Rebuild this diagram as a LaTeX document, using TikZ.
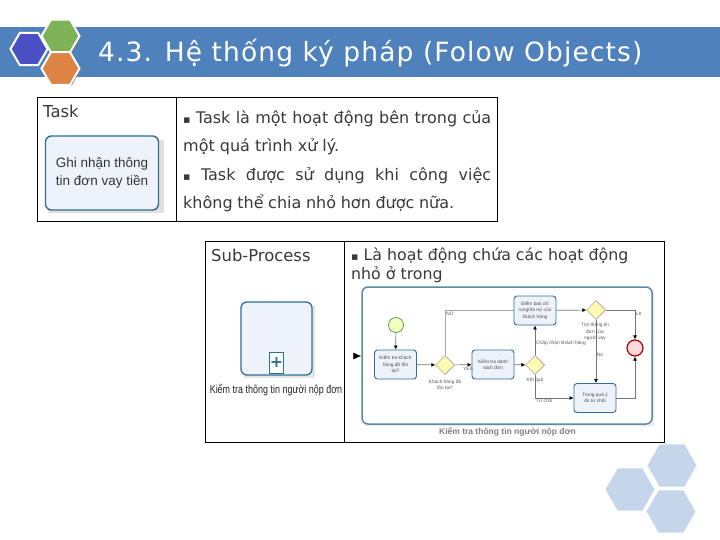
\documentclass[tikz,border=0pt]{standalone}
\usepackage{fontspec}
\usepackage{graphicx}
\setmainfont{DejaVu Sans}
\newfontfamily\lib{Liberation Sans}
\usetikzlibrary{shapes.geometric,arrows.meta,calc}
\definecolor{banner}{HTML}{4F81BD}
\definecolor{paleblue}{HTML}{C6D6EA}
\definecolor{bpmn}{HTML}{2F6F96}
\definecolor{bpmnfill}{HTML}{EEF3FB}
\definecolor{txt}{HTML}{3A3A3A}
\newcommand\bul{{\fontsize{11}{11}\selectfont ▪}}
\tikzset{
  hexa/.style={regular polygon,regular polygon sides=6,inner sep=0pt,outer sep=0pt,minimum size=#1},
  logohex/.style={hexa=#1,draw=white,line width=2pt},
  pale/.style={hexa=49,fill=paleblue},
  cell/.style={draw=black,line width=0.9pt,fill=white},
  tasknode/.style={draw=bpmn,fill=bpmnfill,rounded corners=3pt,line width=0.9pt,minimum width=42pt,minimum height=29pt,inner sep=0pt,align=center,font=\lib\fontsize{4.8}{6.5}\selectfont,text=black!70},
  gate/.style={diamond,aspect=1,draw=black!45,fill=yellow!30,line width=0.5pt,minimum size=19pt,inner sep=0pt},
  flow/.style={draw=black!55,line width=0.7pt,-{Latex[length=4pt,width=4pt,black]}},
  plainflow/.style={draw=black!35,line width=0.7pt},
  tiny/.style={font=\lib\fontsize{4.8}{6.5}\selectfont,text=black!65,inner sep=0pt,align=center},
  body/.style={font=\fontsize{16}{28.5}\selectfont,text=txt,inner sep=0pt,anchor=north west,align=left},
  head/.style={font=\fontsize{16.4}{18}\selectfont,text=txt,inner sep=0pt,anchor=west},
}
\begin{document}
\begin{tikzpicture}[x=1pt,y=-1pt]
\useasboundingbox (0,0) rectangle (720,540);
\fill[white] (0,0) rectangle (720,540);
% banner
\fill[banner] (0,27) rectangle (720,77);
\node[hexa=35,fill=black!55] (sgreen) at (63,38) {};
\node[hexa=35,fill=black!55] (sorange) at (63,70) {};
\node[logohex=38,fill={rgb,255:red,125;green,179;blue,86}] (hgreen) at (60.5,36) {};
\node[logohex=38,fill={rgb,255:red,221;green,132;blue,68}] (horange) at (60.5,68.5) {};
\node[logohex=37,fill={rgb,255:red,74;green,79;blue,196}] (hblue) at (29,49) {};
\node[font=\fontsize{26.5}{30}\selectfont\addfontfeature{LetterSpace=4.2},text=white,inner sep=0pt,anchor=west] (title) at (98,53) {4.3. Hệ thống ký pháp (Folow Objects)};
% table 1
\draw[cell] (37,97) rectangle (497,221);
\draw[black,line width=0.9pt] (176,97) -- (176,221);
\node[head] (l1) at (43,111) {Task};
\fill[black!12] (48,140) rectangle (164,213);
\node[draw=bpmn,fill=bpmnfill,rounded corners=6pt,line width=1.4pt,minimum width=113pt,minimum height=74pt,inner sep=0pt,align=center,font=\lib\fontsize{13.5}{18}\selectfont,text=black!80] (t0) at (102,173) {Ghi nhận thông\\tin đơn vay tiền};
\node[body] (d1) at (183,110) {\makebox[308pt][s]{\bul{} Task là một hoạt động bên trong của}\\một quá trình xử lý.\\\makebox[308pt][s]{\bul{} Task được sử dụng khi công việc}\\\makebox[271pt][s]{không thể chia nhỏ hơn được nữa.}};
% table 2
\draw[cell] (205.5,241) rectangle (664,442);
\draw[black,line width=0.9pt] (344,241) -- (344,442);
\node[head] (l2) at (211,255) {Sub-Process};
\node[font=\fontsize{15.8}{19}\selectfont,text=txt,inner sep=0pt,anchor=north west,align=left] (d2) at (351,248) {\bul{} Là hoạt động chứa các hoạt động\\nhỏ ở trong};
% sub-process icon
\fill[black!10] (244,306) rectangle (315,378);
\node[draw=bpmn,fill=bpmnfill,rounded corners=6pt,line width=1.3pt,minimum width=71pt,minimum height=73pt,inner sep=0pt] (sp) at (276.5,338.5) {};
\node[draw=bpmn,fill=white,line width=1pt,minimum width=13pt,minimum height=21pt,inner sep=0pt,font=\bfseries\fontsize{16}{16}\selectfont,text=bpmn] (plus) at (276.5,362.5) {+};
\node[font=\lib\fontsize{11.5}{13}\selectfont,text=black!85,inner sep=0pt] (splabel) at (276,390) {\scalebox{0.78}[1]{Kiểm tra thông tin người nộp đơn}};
% process
\fill[black!8] (364,290) rectangle (654,426);
\node[draw=bpmn!80,fill=white,rounded corners=6pt,line width=1.5pt,minimum width=290pt,minimum height=137pt,inner sep=0pt] (pool) at (507,355.5) {};
\coordinate (inarrow) at (354,356);
\draw[line width=0.5pt,-{Latex[length=8pt,width=7pt,black]}] (inarrow) -- (pool.west |- inarrow);
\node[circle,draw=green!45!black!70,fill=green!15!yellow!25,line width=0.7pt,minimum size=15pt,inner sep=0pt] (start) at (396,325) {};
\node[tasknode] (t1) at (395.5,364.5) {Kiểm tra khách\\hàng đã tồn\\tại?};
\node[gate] (g1) at (445,365) {};
\node[tasknode] (t2) at (493,364.5) {Kiểm tra danh\\sách đơn};
\node[gate] (g2) at (535,365) {};
\node[tasknode] (t3) at (535,310.5) {Điểm bali chỉ\\rung/trả nợ của\\khách hàng};
\node[gate] (g3) at (596,310) {};
\node[tasknode] (t4) at (595,398) {Trong quá ý\\do từ chối};
\node[circle,draw=red!70!black,fill=red!15,line width=1.2pt,minimum size=16pt,inner sep=0pt] (end) at (635,348) {};
\draw[flow] (start) -- (t1);
\draw[flow] (t1) -- (g1);
\draw[flow] (g1) -- (t2);
\draw[flow] (t2) -- (g2);
\draw[flow] (g2) -- (t3);
\draw[flow] (t3) -- (g3);
\draw[flow] (g3) -- (t4.north -| g3);
\draw[flow] (g3.east) -| (end.north);
\draw[flow] (t4.east) -| (end.south);
\draw[flow] (g2.south) |- (t4.west);
\draw[plainflow] (g1.north) |- (t3.west);
\node[tiny] (nNO) at (450,314) {NO};
\node[tiny] (nYes) at (468,368.5) {YES};
\node[tiny] (nK) at (445,385) {Khách hàng đã\\tồn tại?};
\node[tiny,anchor=west] (nC) at (536,343) {Chấp nhận khách hàng};
\node[tiny] (nQ) at (535,380) {Kết quả};
\node[tiny,anchor=west] (nT) at (536,401) {Từ chối};
\node[tiny] (nF) at (595,332) {Tìm thông tin\\đơn của\\người vay};
\node[tiny] (nN) at (600,355) {No};
\node[tiny] (nL) at (639,314) {LK};
\node[font=\lib\bfseries\fontsize{8.5}{10}\selectfont,text=black!50,inner sep=0pt] (cap) at (507.5,432) {Kiểm tra thông tin người nộp đơn};
% decorative hexagons
\node[pale] (p1) at (672,465.5) {};
\node[pale] (p2) at (630,489.5) {};
\node[pale] (p3) at (671,511.5) {};
\end{tikzpicture}
\end{document}
